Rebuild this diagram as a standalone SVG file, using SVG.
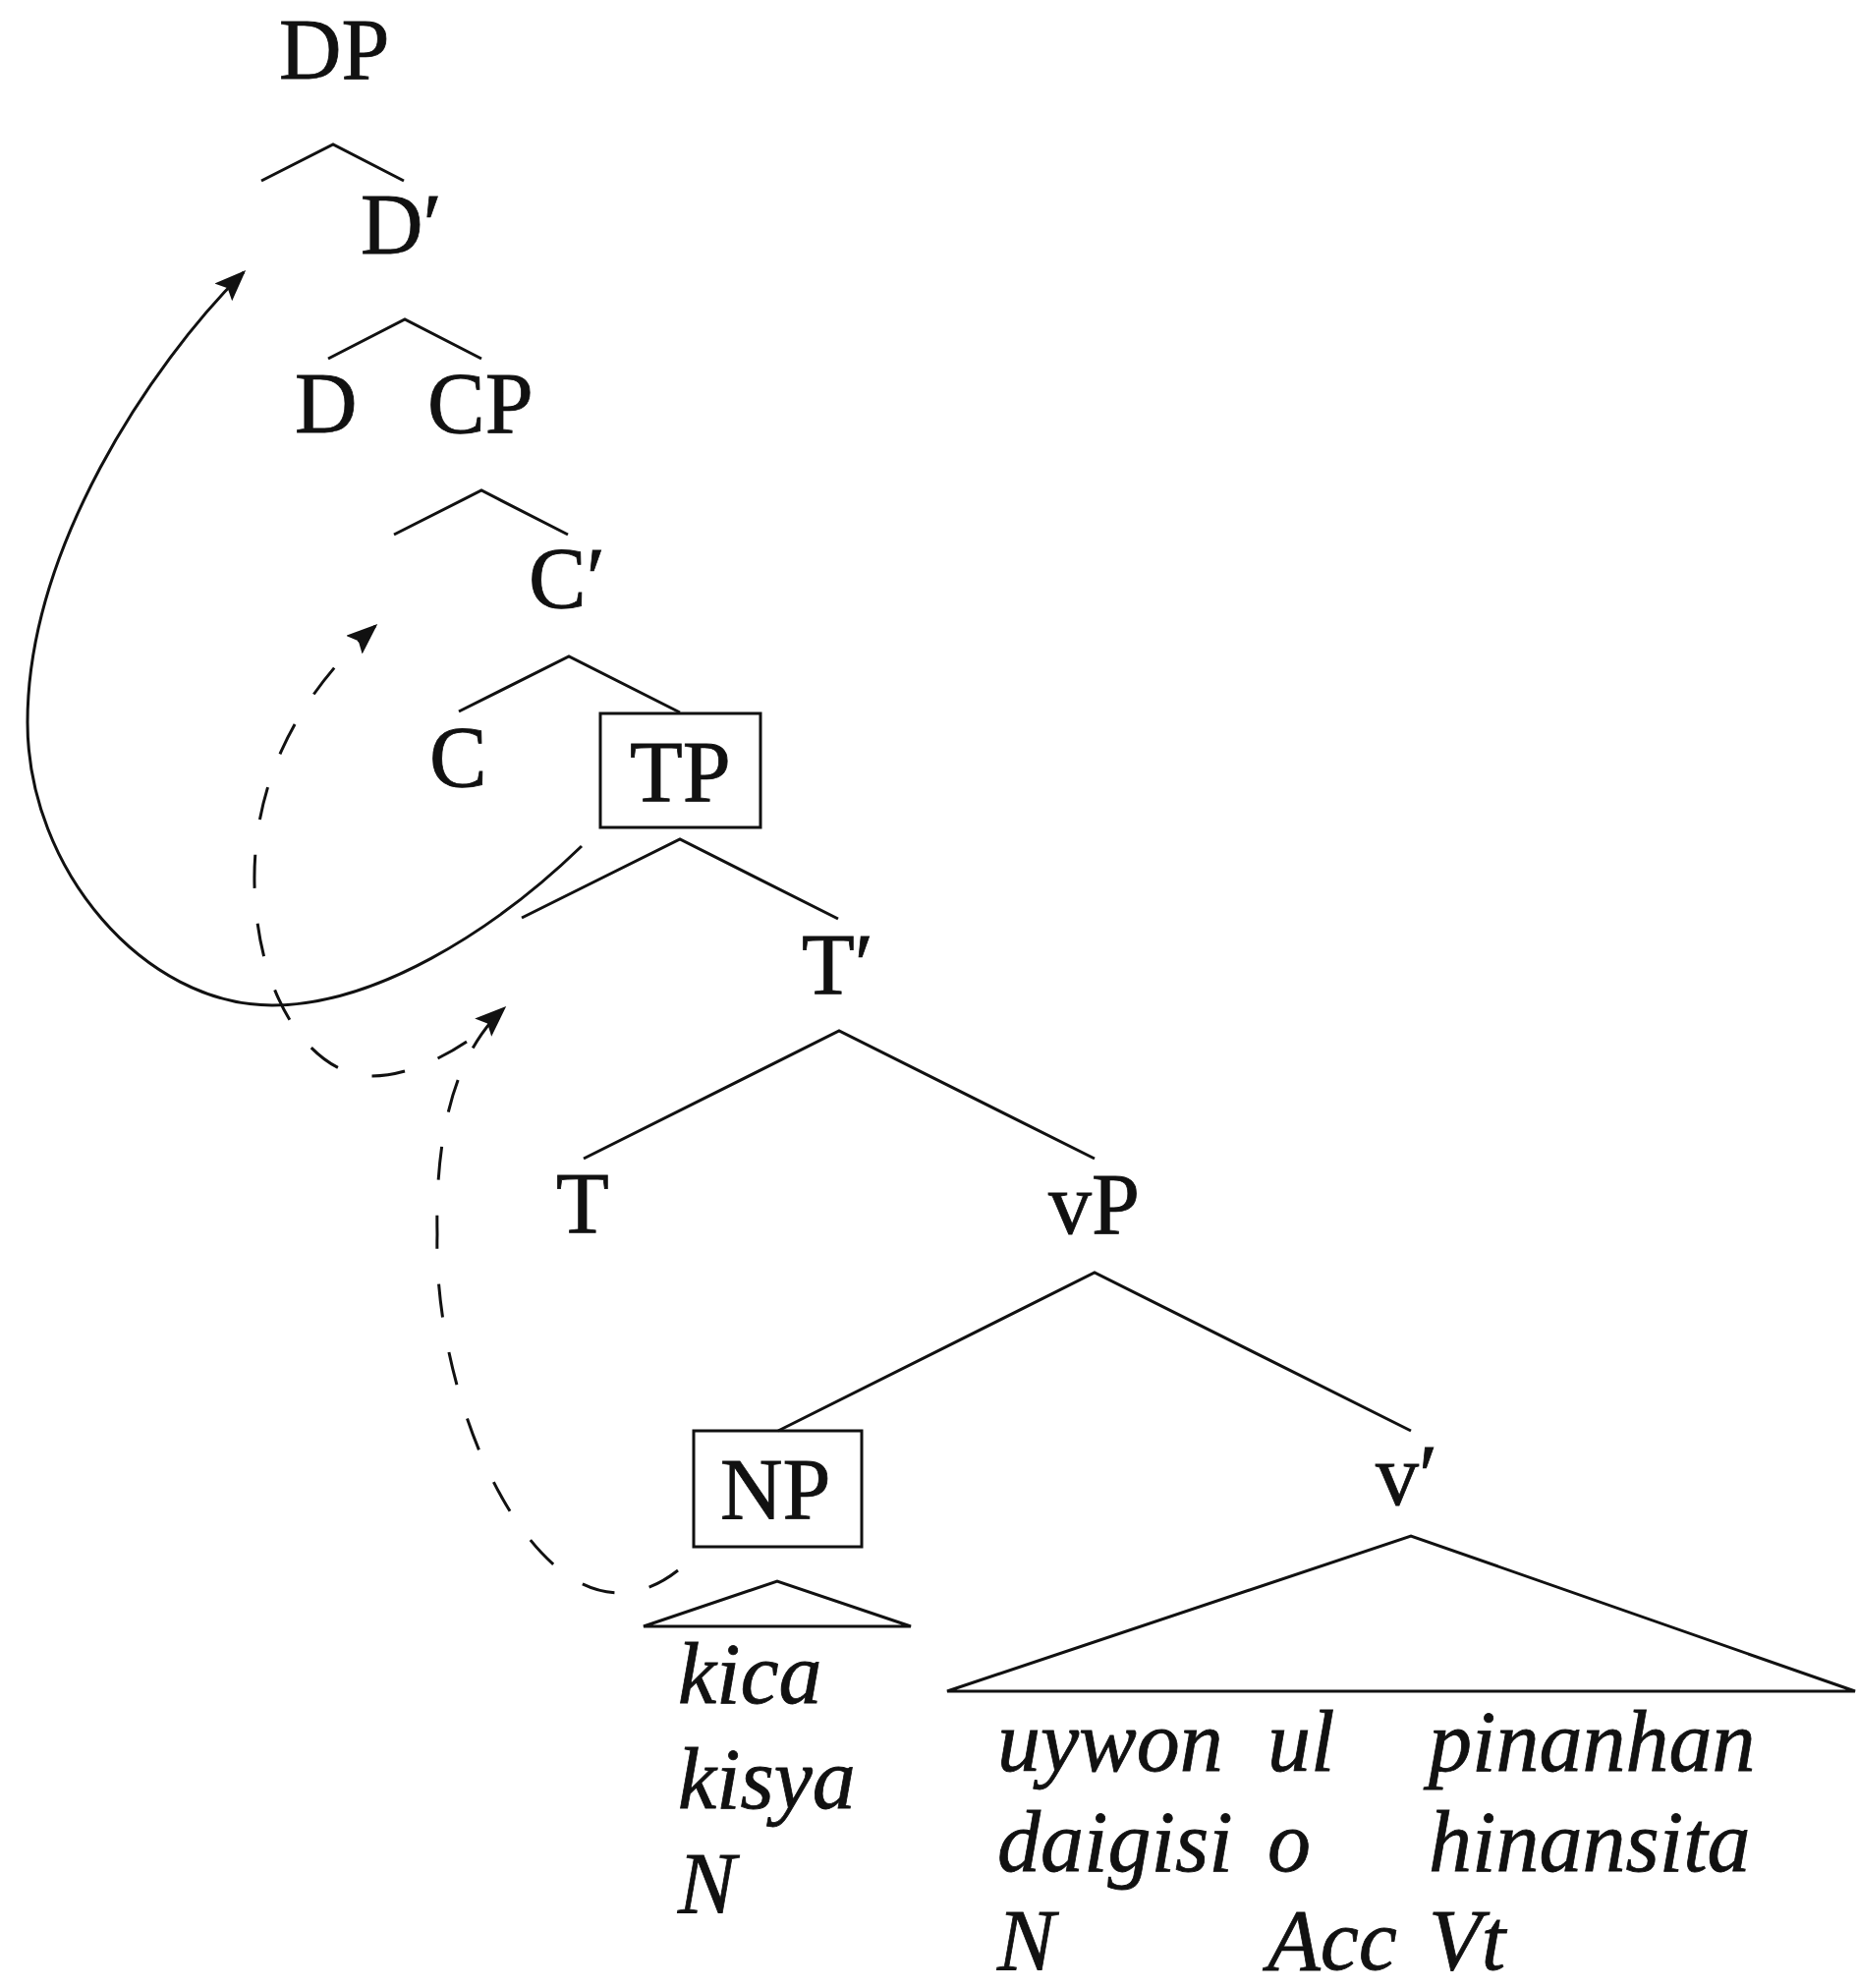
<svg xmlns="http://www.w3.org/2000/svg" width="1890" height="2023" viewBox="0 0 1890 2023">
<style>
  .lbl { font-family: "Liberation Serif", "Times New Roman", serif; font-size: 88px; fill: #111; stroke: #111; stroke-width: 0.8; }
  .it { font-family: "Liberation Serif", "Times New Roman", serif; font-size: 88px; font-style: italic; fill: #111; stroke: #111; stroke-width: 0.8; }
  .br { fill: none; stroke: #111; stroke-width: 3; stroke-linejoin: miter; }
  .box { fill: none; stroke: #111; stroke-width: 3; }
  .mv { fill: none; stroke: #111; stroke-width: 3; }
  .dash { stroke-dasharray: 34 36; }
</style>
<defs>
  <marker id="ah" markerUnits="userSpaceOnUse" viewBox="0 0 32 25" markerWidth="32" markerHeight="25" refX="29" refY="12.5" orient="auto">
    <path d="M0,0 L32,12.5 L0,25 L6,12.5 Z" fill="#111"/>
  </marker>
</defs>
<g id="connectors">
  <polyline class="br" points="266,184 339,147 411,184"/>
  <polyline class="br" points="334,365 412,325 490,365"/>
  <polyline class="br" points="401,544 490,499 578,544"/>
  <polyline class="br" points="467,724 579,668 692,725"/>
  <polyline class="br" points="531,934 692,854 853,935"/>
  <polyline class="br" points="594,1179 854,1049 1114,1179"/>
  <polyline class="br" points="792,1456 1114,1295 1436,1456"/>
  <polygon class="br" points="655,1655 791,1609 927,1655"/>
  <polygon class="br" points="964,1721 1436,1563 1888,1721"/>
  <path class="mv" d="M592,861 C500,950 380,1023 277,1023 C147,1023 28,885 28,735 C28,560 152,372 248,277" marker-end="url(#ah)"/>
  <path class="mv dash" d="M475,1060 C445,1080 410,1095 378,1095 C320,1095 262,1020 259,900 C257,800 300,710 382,637" marker-end="url(#ah)"/>
  <path class="mv dash" d="M690,1598 C560,1700 440,1440 445,1256 C443,1160 460,1075 513,1026" marker-end="url(#ah)"/>
</g>
<g id="node-DP"><text class="lbl" x="284" y="80">DP</text></g>
<g id="node-Dbar"><text class="lbl" x="367" y="258">D′</text></g>
<g id="node-D"><text class="lbl" x="300" y="440">D</text></g>
<g id="node-CP"><text class="lbl" x="435" y="440">CP</text></g>
<g id="node-Cbar"><text class="lbl" x="538" y="618">C′</text></g>
<g id="node-C"><text class="lbl" x="437" y="800">C</text></g>
<g id="node-TP"><rect class="box" x="611" y="726" width="163" height="116"/><text class="lbl" x="641" y="815">TP</text></g>
<g id="node-Tbar"><text class="lbl" x="816" y="1011">T′</text></g>
<g id="node-T"><text class="lbl" x="566" y="1254">T</text></g>
<g id="node-vP"><text class="lbl" x="1067" y="1255">vP</text></g>
<g id="node-NP"><rect class="box" x="706" y="1456" width="171" height="118"/><text class="lbl" x="733" y="1545">NP</text></g>
<g id="node-vbar"><text class="lbl" x="1400" y="1531">v′</text></g>
<g id="leaf-NP">
  <text class="it" x="690" y="1733">kica</text>
  <text class="it" x="690" y="1840">kisya</text>
  <text class="it" x="690" y="1946">N</text>
</g>
<g id="leaf-vbar">
  <text class="it" x="1015" y="1802">uywon</text>
  <text class="it" x="1290" y="1802">ul</text>
  <text class="it" x="1454" y="1802">pinanhan</text>
  <text class="it" x="1015" y="1904">daigisi</text>
  <text class="it" x="1290" y="1904">o</text>
  <text class="it" x="1454" y="1904">hinansita</text>
  <text class="it" x="1015" y="2004">N</text>
  <text class="it" x="1290" y="2004">Acc</text>
  <text class="it" x="1454" y="2004">Vt</text>
</g>
</svg>
